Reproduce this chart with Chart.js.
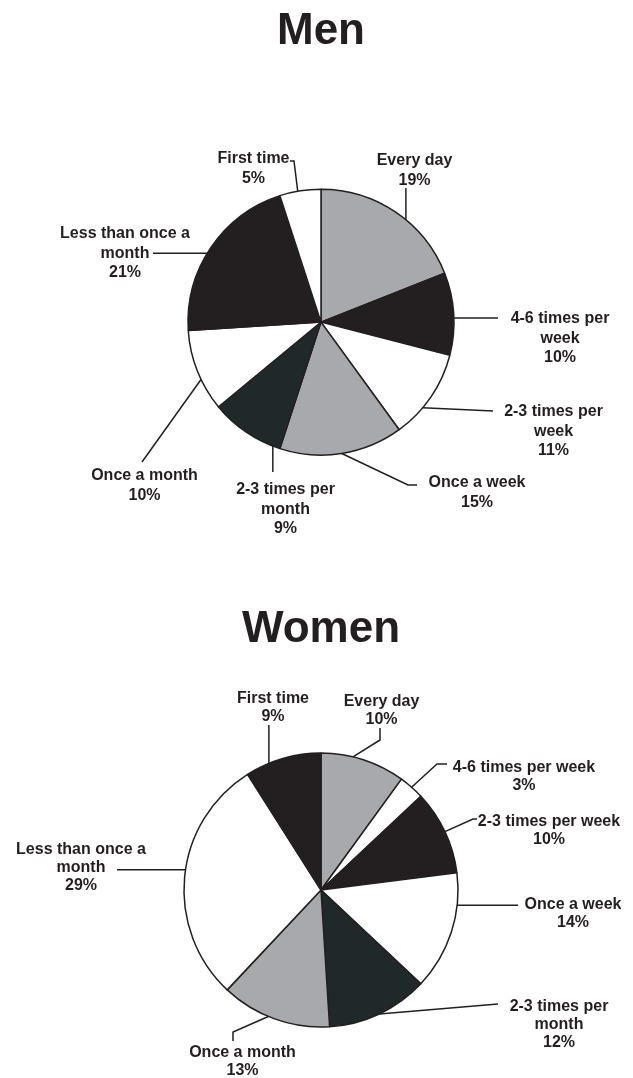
<!DOCTYPE html>
<html>
<head>
<meta charset="utf-8">
<script src="https://cdn.jsdelivr.net/npm/chart.js@4/dist/chart.umd.min.js"></script>
<style>
  body { margin: 0; background: #fff; }
  #wrap { position: relative; width: 633px; height: 1078px; }
  canvas { position: absolute; left: 0; }
  #menChart { top: 0; }
  #womenChart { top: 560px; }
</style>
</head>
<body>
<div id="wrap">
  <canvas id="menChart" width="633" height="560"></canvas>
  <canvas id="womenChart" width="633" height="518"></canvas>
</div>
<script>
// How often the respondents do it, share in percent
const categories = [
    'Every day', '4-6 times per week', '2-3 times per week', 'Once a week',
    '2-3 times per month', 'Once a month', 'Less than once a month', 'First time'
];
const menShares = [19, 10, 11, 15, 9, 10, 21, 5];
const womenShares = [10, 3, 10, 14, 12, 13, 29, 9];

const ink = '#231f20';
const grey = '#a7a9ac';
const dark = '#212829';
const white = '#ffffff';
const menColors = [grey, ink, white, grey, dark, white, ink, white];
const womenColors = [grey, white, ink, white, dark, grey, white, ink];

const fontFamily = '"Liberation Sans", Arial, Helvetica, sans-serif';
const labelFont = 'bold 16px ' + fontFamily;

// Where each callout sits: "at" = point along the slice arc (0..1),
// path = leader line corners (null keeps the previous coordinate), x/y = text anchor
const menCallouts = [
    { at: 0.58, path: [[null, 188]], x: 414.5, y: 165 },
    { at: 0.55, path: [[498, null]], x: 560, y: 323 },
    { at: 0.65, path: [[493, 411]], x: 553.5, y: 416 },
    { at: 0.5, path: [[408, 485], [417, 485]], x: 477, y: 487 },
    { at: 0.1, path: [[null, 472]], x: 285.5, y: 494 },
    { at: 0.39, path: [[142, 462]], x: 144.5, y: 480 },
    { at: 0.46, path: [[153, null]], x: 125, y: 238 },
    { at: 0.44, path: [[294, 161], [290, 161]], x: 253.5, y: 163 }
];
const womenCallouts = [
    { at: 0.375, path: [[380, 180], [380, 168]], x: 381.5, y: 146 },
    { at: 0.5, path: [[437, 204], [447, 204]], x: 524, y: 212 },
    { at: 0.5, path: [[473, 259], [477, 259]], x: 549, y: 266 },
    { at: 0.27, path: [[518, null]], x: 573, y: 349 },
    { at: 0.5, path: [[498, 444]], x: 559, y: 451 },
    { at: 0.56, path: [[233, 472], [233, 481]], x: 242.5, y: 497 },
    { at: 0.53, path: [[117, null]], x: 81, y: 294 },
    { at: 0.31, path: [[null, 165]], x: 273, y: 143 }
];

// Break a category name into lines no wider than maxWidth
function wrapLabel(ctx, text, maxWidth) {
    const words = text.split(' ');
    const lines = [];
    let line = words[0];
    words.slice(1).forEach(w => {
        if (ctx.measureText(line + ' ' + w).width > maxWidth) {
            lines.push(line);
            line = w;
        } else {
            line += ' ' + w;
        }
    });
    lines.push(line);
    return lines;
}

// Draws leader lines and "name / value%" labels outside the pie
function makeCallouts(items, wrapWidth, lineHeight) {
    return {
        id: 'callouts',
        afterDatasetsDraw(chart) {
            const ctx = chart.ctx;
            const meta = chart.getDatasetMeta(0);
            const values = chart.data.datasets[0].data;
            ctx.save();
            ctx.strokeStyle = ink;
            ctx.fillStyle = ink;
            ctx.lineWidth = 1.5;
            ctx.font = labelFont;
            ctx.textAlign = 'center';
            ctx.textBaseline = 'alphabetic';
            meta.data.forEach((arc, i) => {
                const c = items[i];
                const p = arc.getProps(['x', 'y', 'startAngle', 'endAngle', 'outerRadius'], true);
                const a = p.startAngle + (p.endAngle - p.startAngle) * c.at;
                let px = p.x + Math.cos(a) * p.outerRadius;
                let py = p.y + Math.sin(a) * p.outerRadius;
                ctx.beginPath();
                ctx.moveTo(px, py);
                c.path.forEach(([qx, qy]) => {
                    px = qx === null ? px : qx;
                    py = qy === null ? py : qy;
                    ctx.lineTo(px, py);
                });
                ctx.stroke();
                const lines = wrapLabel(ctx, chart.data.labels[i], wrapWidth).concat(values[i] + '%');
                lines.forEach((t, k) => ctx.fillText(t, c.x, c.y + k * lineHeight));
            });
            ctx.restore();
        }
    };
}

function drawPie(id, title, shares, colors, callouts, setup) {
    new Chart(document.getElementById(id), {
        type: 'pie',
        data: {
            labels: categories,
            datasets: [{
                data: shares,
                backgroundColor: colors,
                borderColor: ink,
                borderWidth: 1.5
            }]
        },
        options: {
            responsive: false,
            animation: false,
            devicePixelRatio: 1,
            events: [],
            layout: { padding: setup.padding },
            plugins: {
                legend: { display: false },
                tooltip: { enabled: false },
                title: {
                    display: true,
                    text: title,
                    color: ink,
                    font: { family: fontFamily, size: 44, weight: 'bold' },
                    padding: setup.titlePadding
                }
            }
        },
        plugins: [makeCallouts(callouts, setup.wrapWidth, setup.lineHeight)]
    });
}

drawPie('menChart', 'Men', menShares, menColors, menCallouts, {
    padding: { left: 187.25, right: 178.25, top: 0, bottom: 104 },
    titlePadding: { top: 5.6, bottom: 129.85 },
    wrapWidth: 138,
    lineHeight: 19.5
});

drawPie('womenChart', 'Women', womenShares, womenColors, womenCallouts, {
    padding: { left: 183.25, right: 174.25, top: 0, bottom: 50.25 },
    titlePadding: { top: 43.6, bottom: 95.85 },
    wrapWidth: 148,
    lineHeight: 18
});
</script>
</body>
</html>
